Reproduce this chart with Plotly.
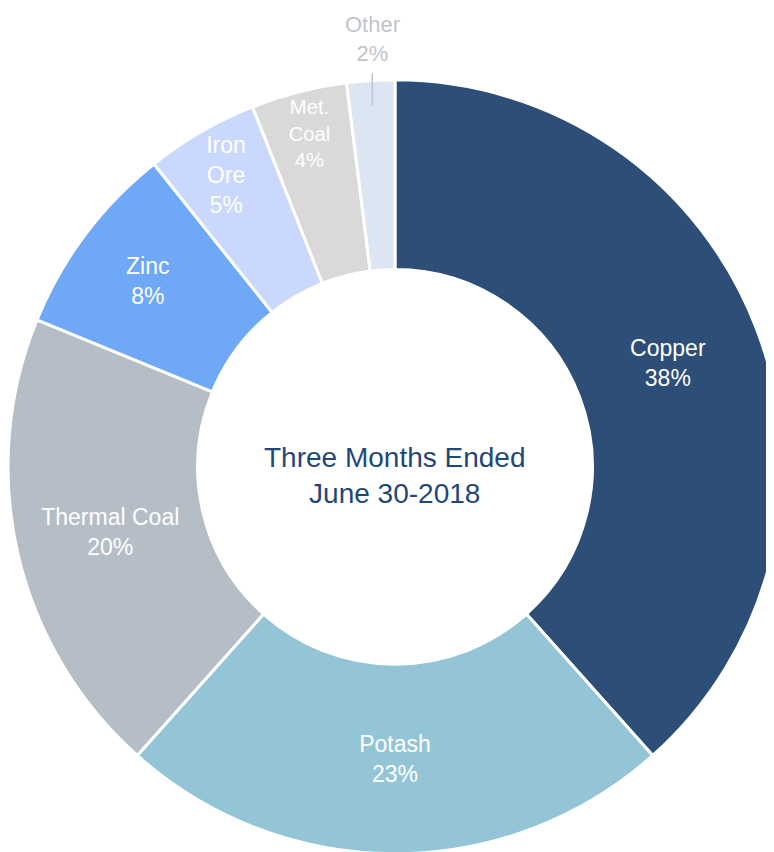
import math
import plotly.graph_objects as go

# Revenue share by commodity
labels = ["Copper", "Potash", "Thermal Coal", "Zinc", "Iron<br>Ore", "Met.<br>Coal", "Other"]
shares = [38.4, 23.2, 19.6, 8.1, 4.7, 4.0, 2.0]
colors = ["#2D4E76", "#93C5D6", "#B5BDC7", "#6FA8F6", "#C9D8FC", "#D9D9D9", "#DCE6F2"]

W, H = 774, 852
dom_y = [0.007, 0.916]
font_family = "Liberation Sans Narrow, Arial Narrow, Liberation Sans, Arial"

# the tiny "Other" slice gets its label outside with a leader line
positions = ["inside"] * 6 + ["none"]

fig = go.Figure(go.Pie(
    labels=labels,
    values=shares,
    hole=0.51,
    sort=False,
    direction="clockwise",
    rotation=0,
    marker=dict(colors=colors, line=dict(color="white", width=3)),
    texttemplate="%{label}<br>%{percent:.0%}",
    textposition=positions,
    insidetextorientation="horizontal",
    insidetextfont=dict(color="white", size=23, family=font_family),
    showlegend=False,
    domain=dict(x=[0, 1], y=dom_y),
))

fig.add_annotation(
    text="Three Months Ended<br>June 30-2018",
    x=0.5, y=sum(dom_y) / 2, xref="paper", yref="paper",
    xanchor="center", yanchor="middle", yshift=-9,
    showarrow=False,
    font=dict(size=28, color="#1F4878", family="Liberation Sans, Arial"),
)

# leader line + label for "Other", placed at the middle angle of its slice
total = sum(shares)
mid = 2 * math.pi * (1 - shares[-1] / total / 2)
cx, cy = W / 2, (1 - sum(dom_y) / 2) * H   # centre in px from top-left
radius = W / 2


def to_paper(r):
    return (cx + r * math.sin(mid)) / W, 1 - (cy - r * math.cos(mid)) / H


px0, py0 = to_paper(radius * 0.935)
fig.add_annotation(
    x=px0, y=py0, xref="paper", yref="paper",
    text="", showarrow=True, arrowhead=0, arrowwidth=1.5,
    arrowcolor="#BFC5CC", ax=0, ay=-34, standoff=0, startstandoff=0,
)
px1, py1 = to_paper(radius * 1.108)
fig.add_annotation(
    x=px0, y=py1, xref="paper", yref="paper",
    xanchor="center", yanchor="middle",
    text="Other<br>%d%%" % round(shares[-1] / total * 100),
    showarrow=False,
    font=dict(size=22, color="#BFC5CC", family=font_family),
)

fig.update_layout(
    width=W, height=H,
    margin=dict(l=0, r=0, t=0, b=0),
    paper_bgcolor="white",
)

fig.write_html("out.html")
